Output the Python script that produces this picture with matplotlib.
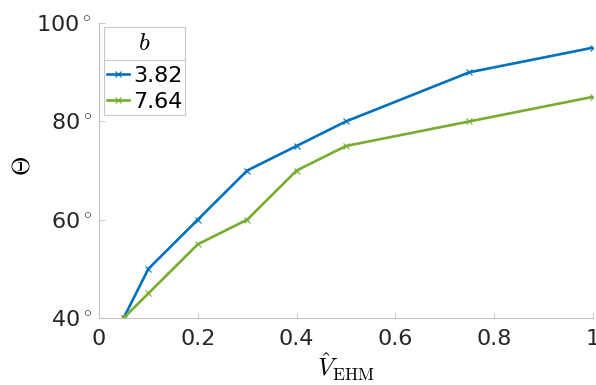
import matplotlib
matplotlib.use("Agg")
import matplotlib.pyplot as plt
from matplotlib.lines import Line2D

v_ehm = [0.05, 0.1, 0.2, 0.3, 0.4, 0.5, 0.75, 1.0]
theta_b382 = [40, 50, 60, 70, 75, 80, 90, 95]
theta_b764 = [40, 45, 55, 60, 70, 75, 80, 85]
b_labels = ["3.82", "7.64"]
x_ticks = [0, 0.2, 0.4, 0.6, 0.8, 1]
y_ticks = [40, 60, 80, 100]

plt.rcParams["mathtext.fontset"] = "cm"
plt.rcParams["font.family"] = ["DejaVu Sans"]

fig = plt.figure(figsize=(5.96, 3.85), dpi=100)
ax = fig.add_axes([0.166, 0.174, 0.829, 0.766])

ax.plot(v_ehm, theta_b382, color="#0072BD", lw=1.9, marker="x", ms=5, mew=0.8, label=b_labels[0])
ax.plot(v_ehm, theta_b764, color="#77AC30", lw=1.9, marker="x", ms=5, mew=0.8, label=b_labels[1])

ax.set_xlim(0, 1)
ax.set_ylim(40, 100)
ax.set_xticks(x_ticks)
ax.set_xticklabels(["%g" % t for t in x_ticks])
ax.set_yticks(y_ticks)
ax.set_yticklabels([r"%d$^{\hspace{0.04}\circ}$" % t for t in y_ticks])

for s in ["top", "right"]:
    ax.spines[s].set_visible(False)
for s in ["left", "bottom"]:
    ax.spines[s].set_color("#bfbfbf")
    ax.spines[s].set_linewidth(0.8)
ax.tick_params(direction="in", length=4, width=0.6, color="#bfbfbf",
               labelsize=16, labelcolor="#262626")
ax.tick_params(axis="x", pad=8)
ax.tick_params(axis="y", pad=5)

ax.set_xlabel(r"$\hat{V}_{\mathrm{EHM}}$", fontsize=18, labelpad=1)
ax.set_ylabel(r"$\Theta$", fontsize=18)
ax.yaxis.set_label_coords(-0.13, 0.515)

leg = ax.legend(title=r"$b$", loc="upper left", bbox_to_anchor=(0.01, 0.986),
                fontsize=16, title_fontsize=18, handlelength=1.0, handletextpad=0.15,
                borderaxespad=0, borderpad=0.15, labelspacing=0.27,
                fancybox=False, framealpha=1, edgecolor="#c8c8c8")
leg.get_frame().set_linewidth(0.8)
leg._legend_box.sep = 8

fig.canvas.draw()
inv = fig.transFigure.inverted()
lb = leg.get_window_extent()
tb = leg.get_title().get_window_extent()
(x0, _), (x1, _) = inv.transform([(lb.x0, 0), (lb.x1, 0)])
ysep = inv.transform([(0, tb.y0 - 5)])[0][1]
fig.add_artist(Line2D([x0, x1], [ysep, ysep], transform=fig.transFigure,
                      color="#c8c8c8", lw=0.8))

fig.savefig("out.png", dpi=100)
